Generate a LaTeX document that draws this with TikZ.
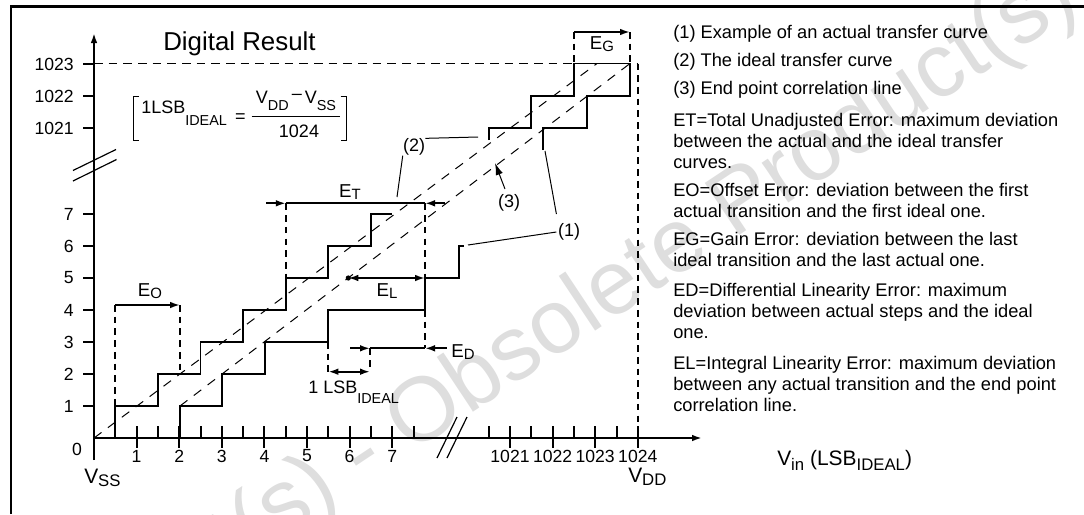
\documentclass[tikz,border=0pt]{standalone}
\usepackage{fontspec}
\setmainfont{Liberation Sans}
\usetikzlibrary{arrows.meta}
\newcommand\lsub[2][0.2em]{\raisebox{-#1}{\scalebox{0.8}{#2}}}
\begin{document}
\begin{tikzpicture}[x=0.75pt,y=-0.75pt,
  tip/.style={-{Latex[length=7.5pt,width=5pt]}},
  tips/.style={{Latex[length=7.5pt,width=5pt]}-{Latex[length=7.5pt,width=5pt]}},
  axis/.style={line width=1.5pt},
  stair/.style={line width=1.4pt},
  refline/.style={line width=0.75pt, dash pattern=on 7pt off 6pt},
  guide/.style={line width=1.4pt, dash pattern=on 5pt off 3.8pt},
  leader/.style={line width=0.75pt},
  txt/.style={font=\fontsize{13.5}{15.5}\selectfont, inner sep=0pt, align=left},
  legend/.style={font=\fontsize{13.7}{15.5}\selectfont, inner sep=0pt, align=left},
  num/.style={font=\fontsize{13.2}{15}\selectfont, inner sep=0pt},
  big/.style={font=\fontsize{15.7}{18}\selectfont, inner sep=0pt},
  elabel/.style={font=\fontsize{14}{16}\selectfont, inner sep=0pt},
  wm/.style={font=\fontsize{68}{68}\selectfont, text=black!13, inner sep=0pt},
]
\useasboundingbox (0,0) rectangle (1084,514);

% watermark
\node[wm, rotate=33.6, anchor=base east] (wmark) at (1082,8) {Obsolete Product(s) - Obsolete Product(s)};

% frame
\draw[line width=2pt] (11,514) -- (11,6.5) -- (1084,6.5);

% reference dashed lines (ideal and end point)
\draw[refline] (94,438) -- (597,63.5);
\draw[refline] (180,406) -- (630,63.5);

% guides
\draw[guide, line width=1.4pt, dash pattern=on 6.5pt off 4.5pt] (94,63.5) -- (638,63.5);
\draw[guide] (638,63.5) -- (638,438);

% axes
\draw[axis, tip] (94,460) -- (94,33);
\draw[axis, tip] (94,438) -- (702,438);
\draw[line width=0.9pt] (73,170.5) -- (116,149.5);
\draw[line width=0.9pt] (73,181) -- (116.5,159.5);
\draw[line width=0.9pt] (437,458) -- (457,417);
\draw[line width=0.9pt] (447,458) -- (467,417);

% x ticks
\foreach \n in {1,...,7} {\draw[axis] ({94+42.6*\n},426) -- ({94+42.6*\n},448);
  \node[num] (xl\n) at ({94+42.6*\n},456) {\n};}
\foreach \n in {0.5,1.5,...,7.5} {\draw[axis] ({94+42.6*\n},426) -- ({94+42.6*\n},438);}
\foreach \n/\v in {0/1021,1/1022,2/1023,3/1024} {\draw[axis] ({510+42.6*\n},426) -- ({510+42.6*\n},448);
  \node[num] (xh\n) at ({510+42.6*\n},456) {\v};}
\foreach \n in {0,1,2,3} {\draw[axis] ({488.7+42.6*\n},426) -- ({488.7+42.6*\n},438);}
\node[num] (x0) at (77,449) {0};

% y ticks
\foreach \n in {1,...,7} {\draw[axis] (83,{438-32*\n}) -- (94,{438-32*\n});
  \node[num, anchor=east] (yl\n) at (74,{438-32*\n}) {\n};}
\foreach \n/\v in {0/1023,1/1022,2/1021} {\draw[axis] (83,{64+32*\n}) -- (94,{64+32*\n});
  \node[num, anchor=east] (yh\n) at (74,{64+32*\n}) {\v};}

% ideal transfer curve (2)
\draw[stair] (115.3,438) -- (115.3,406) -- (158,406) -- (158,374) -- (200.5,374) -- (200.5,342)
  -- (243.2,342) -- (243.2,310) -- (285.8,310) -- (285.8,278) -- (328.4,278) -- (328.4,246)
  -- (371,246) -- (371,214) -- (392.3,214);
\draw[stair] (488.7,140) -- (488.7,128) -- (531.3,128) -- (531.3,96) -- (574,96) -- (574,63.5) -- (630,63.5);

% actual transfer curve (1)
\draw[stair] (180,438) -- (180,406) -- (222,406) -- (222,374) -- (265,374) -- (265,342)
  -- (328.4,342) -- (328.4,310) -- (425,310) -- (425,278) -- (459,278) -- (459,246) -- (464,246);
\draw[stair] (543,150) -- (543,128) -- (586.7,128) -- (586.7,96) -- (630,96) -- (630,63.5);

% E_O
\draw[guide] (115.3,305) -- (115.3,406);
\draw[guide] (180,305) -- (180,374);
\draw[stair, tip] (115.3,305) -- (180,305);
\node[elabel] (eo) at (150,291) {E\lsub[0.1em]{O}};

% E_T
\draw[guide] (285.8,203.3) -- (285.8,278);
\draw[guide] (425,203.3) -- (425,278);
\draw[stair, tip] (266,203.3) -- (285.8,203.3);
\draw[stair] (285.8,203.3) -- (425,203.3);
\draw[stair, tip] (445,203.3) -- (425,203.3);
\node[elabel] (et) at (350,192) {E\lsub[0.1em]{T}};

% E_L
\fill (348.3,278) circle (2.6);
\draw[stair, tips] (348.3,278) -- (425,278);
\node[elabel] (el) at (387,291) {E\lsub[0.1em]{L}};

% E_D and 1 LSB
\draw[guide] (425,310) -- (425,348.3);
\draw[guide] (370,348.3) -- (370,371.7);
\draw[guide] (328.4,342) -- (328.4,371.7);
\draw[stair, tip] (350,348.3) -- (370,348.3);
\draw[stair] (370,348.3) -- (425,348.3);
\draw[stair, tip] (446.7,348.3) -- (425,348.3);
\node[elabel] (ed) at (463,352) {E\lsub[0.1em]{D}};
\draw[stair, tips] (328.4,371.7) -- (370,371.7);
\node[txt, anchor=base west] (lsb) at (308,393.5) {1 LSB\lsub[0.56em]{IDEAL}};

% E_G
\draw[guide] (574,32) -- (574,63.5);
\draw[guide] (630,32) -- (630,63.5);
\draw[stair, tip] (574,32) -- (630,32);
\node[elabel] (eg) at (602,44) {E\lsub[0.1em]{G}};

% labels (1) (2) (3)
\node[txt] (l2) at (414,147) {(2)};
\coordinate (p2a) at (478,137);
\coordinate (p2b) at (397,197);
\draw[leader] (l2.north east) -- (p2a);
\draw[leader] (l2.south west) -- (p2b);
\node[txt] (l1) at (569,232) {(1)};
\coordinate (p1a) at (468,245);
\coordinate (p1b) at (545,151);
\draw[leader] ([xshift=-1pt]l1.west) -- (p1a);
\draw[leader] ([xshift=-1pt,yshift=7pt]l1.north west) -- (p1b);
\node[txt] (l3) at (509,203) {(3)};
\coordinate (p3) at (495,163);
\draw[leader, -{Latex[length=9pt,width=5.5pt]}] ([xshift=-3pt,yshift=4pt]l3.north) -- (p3);

% title and formula
\node[font=\fontsize{19.4}{22}\selectfont, inner sep=0pt, anchor=base west] (title) at (163,50) {Digital Result};
\draw[line width=0.7pt] (139,96) -- (133.3,96) -- (133.3,140) -- (139,140);
\draw[line width=0.7pt] (340.7,96) -- (346.7,96) -- (346.7,140) -- (340.7,140);
\node[txt, anchor=base west] (f1) at (141,113.3) {1LSB\lsub[0.66em]{IDEAL}};
\node[txt] (feq) at (240.5,118) {=};
\node[txt] (fnum) at (296,101) {V\lsub[0.38em]{DD}\,\raisebox{0.25em}{–}\,V\lsub[0.38em]{SS}};
\draw[line width=0.7pt] (251.7,116.7) -- (340,116.7);
\node[txt] (fden) at (299,131.5) {1024};

% axis names
\node[big, anchor=base west] (vss) at (84,483) {V\lsub[0.16em]{SS}};
\node[big, anchor=base west] (vdd) at (628,482) {V\lsub[0.16em]{DD}};
\node[big, anchor=base west] (vin) at (777,465) {V\lsub[0.24em]{in} (LSB\lsub[0.24em]{IDEAL})};

% legend text (base anchor = baseline of last line)
\node[legend, anchor=base west] (t1) at (673,38) {(1) Example of an actual transfer curve};
\node[legend, anchor=base west] (t2) at (673,66) {(2) The ideal transfer curve};
\node[legend, anchor=base west] (t3) at (673,94) {(3) End point correlation line};
\node[legend, anchor=base west] (tet) at (673,168) {ET=Total Unadjusted Error: maximum deviation\\between the actual and the ideal transfer\\curves.};
\node[legend, anchor=base west] (teo) at (673,217) {EO=Offset Error: deviation between the first\\actual transition and the first ideal one.};
\node[legend, anchor=base west] (teg) at (673,266) {EG=Gain Error: deviation between the last\\ideal transition and the last actual one.};
\node[legend, anchor=base west] (ted) at (673,338) {ED=Differential Linearity Error: maximum\\deviation between actual steps and the ideal\\one.};
\node[legend, anchor=base west] (tel) at (673,411) {EL=Integral Linearity Error: maximum deviation\\between any actual transition and the end point\\correlation line.};
\end{tikzpicture}
\end{document}
